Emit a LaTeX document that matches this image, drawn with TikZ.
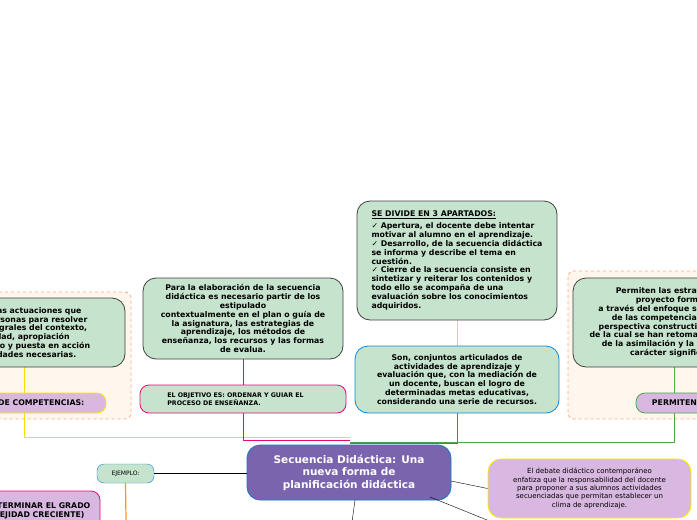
\documentclass[tikz,border=0pt]{standalone}
\usepackage{fontspec}
\setmainfont{DejaVu Sans}
\begin{document}
\begin{tikzpicture}[x=1pt, y=-1pt, font=\bfseries\fontsize{7.8}{8.9}\selectfont,
    topic/.style={draw=black!75, thick, rounded corners=13pt, fill=green!18!white!90!teal, align=center, inner sep=4pt},
    tag/.style={rounded corners=9pt, thick, fill=violet!30, align=center},
    zone/.style={draw=orange!60!red!50, dashed, thick, fill=orange!7, rounded corners=6pt}]
    \useasboundingbox (0,0) rectangle (697,520);
    \definecolor{leaf}{HTML}{C6E3CD}
    \definecolor{lila}{HTML}{D8B8E0}
    \definecolor{core}{HTML}{7A64AD}

    % dashed zones
    \draw[zone] (-10,292) rectangle (131,419);
    \draw[zone] (568,271) rectangle (710,419);

    % connectors
    \draw[yellow!80!orange, thick] (24,367) -- (24,437) -- (350,437);
    \draw[magenta!70!red, thick] (243,359) -- (243,385);
    \draw[magenta!70!red, thick] (243,413) -- (243,440) -- (350,440);
    \draw[cyan!40, thick] (457,320) -- (457,346);
    \draw[cyan!70!blue, thick] (457,413) -- (457,443) -- (350,443);
    \draw[green!40!gray, thick] (674,367) -- (674,393);
    \draw[green!50!black!70, thick] (674,413) -- (674,442) -- (350,442);

    % left branch
    \node[topic, fill=leaf, minimum width=230pt, minimum height=69pt] (actua) at (10,332.5)
        {Conjunto de las actuaciones que\\realizan las personas para resolver\\problemas integrales del contexto,\\con idoneidad, apropiación\\del conocimiento y puesta en acción\\de las habilidades necesarias.};
    \node[tag, draw=yellow!90!orange, fill=lila, minimum width=180pt, minimum height=20pt] (compet) at (16,403)
        {CONCEPTO DE COMPETENCIAS:};

    % middle branch
    \node[topic, fill=leaf, minimum width=200pt, minimum height=81pt] (elabora) at (243,318.5)
        {Para la elaboración de la secuencia\\didáctica es necesario partir de los\\estipulado\\contextualmente en el plan o guía de\\la asignatura, las estrategias de\\aprendizaje, los métodos de\\enseñanza, los recursos y las formas\\de evalua.};
    \node[tag, draw=magenta!80!red, fill=leaf, minimum width=206pt, minimum height=28pt, align=left, font=\bfseries\fontsize{6.3}{8}\selectfont] (objetivo) at (243,399)
        {EL OBJETIVO ES: ORDENAR Y GUIAR EL\\PROCESO DE ENSEÑANZA.\hspace*{58pt}};

    \node[topic, fill=leaf, minimum width=200pt, minimum height=119pt, align=left] (divide) at (457,260.5)
        {\underline{SE DIVIDE EN 3 APARTADOS:}\\[3pt]
        ✓ Apertura, el docente debe intentar\\motivar al alumno en el aprendizaje.\\
        ✓ Desarrollo, de la secuencia didáctica\\se informa y describe el tema en\\cuestión.\\
        ✓ Cierre de la secuencia consiste en\\sintetizar y reiterar los contenidos y\\todo ello se acompaña de una\\evaluación sobre los conocimientos\\adquiridos.};
    \node[topic, draw=cyan!70!blue, fill=leaf, minimum width=204pt, minimum height=67pt] (conjuntos) at (457,379.5)
        {Son, conjuntos articulados de\\actividades de aprendizaje y\\evaluación que, con la mediación de\\un docente, buscan el logro de\\determinadas metas educativas,\\considerando una serie de recursos.};

    % right branch
    \node[topic, fill=leaf, minimum width=210pt, minimum height=89pt] (estrat) at (678,322.5)
        {Permiten las estrategias del\\proyecto formativo\\a través del enfoque socioformativo\\de las competencias, desde la\\perspectiva constructivista, a partir\\de la cual se han retomado los procesos\\de la asimilación y la realidad, con\\carácter significativo.};
    \node[tag, draw=green!50!black!70, fill=lila, minimum width=110pt, minimum height=20pt] (permiten) at (691,403)
        {\hspace*{-30pt}PERMITEN:};

    % central topic
    \node[draw=cyan!60!blue, thick, rounded corners=13pt, fill=core, text=white, align=center,
        minimum width=204pt, minimum height=55pt, font=\bfseries\fontsize{10.5}{12.5}\selectfont] (secuencia) at (349,472.5)
        {Secuencia Didáctica: Una\\nueva forma de\\planificación didáctica};

    \node[draw=cyan!70!blue, rounded corners=7pt, fill=leaf, minimum width=57pt, minimum height=19pt,
        font=\fontsize{6}{7}\selectfont] (ejemplo) at (125.5,473.5) {EJEMPLO:};
    \draw[very thick] (ejemplo.east) -- (secuencia.west |- ejemplo.east);
    \coordinate (ejdown) at (126,520);
    \draw[orange!80!yellow, very thick] (ejemplo.south) -- (ejdown);

    \node[tag, draw=magenta!80!red, fill=lila, minimum width=230pt, minimum height=40pt] (grado) at (-15,511)
        {\hspace*{80pt}PARA DETERMINAR EL GRADO\\\hspace*{80pt}(COMPLEJIDAD CRECIENTE)};

    \node[draw=yellow!90!orange, thick, rounded corners=13pt, fill=lila, align=center, minimum width=203pt,
        minimum height=59pt, font=\fontsize{7}{8.4}\selectfont] (debate) at (589.5,488.5)
        {El debate didáctico contemporáneo\\enfatiza que la responsabilidad del docente\\para proponer a sus alumnos actividades\\secuenciadas que permitan establecer un\\clima de aprendizaje.};
    \draw[thin] (451,481) -- (debate.west);
    \coordinate (lowright) at (492,522);
    \coordinate (lowmid) at (352,522);
    \draw[thin] (430,497) -- (lowright);
    \draw[thin] (355,500) -- (lowmid);
\end{tikzpicture}
\end{document}
